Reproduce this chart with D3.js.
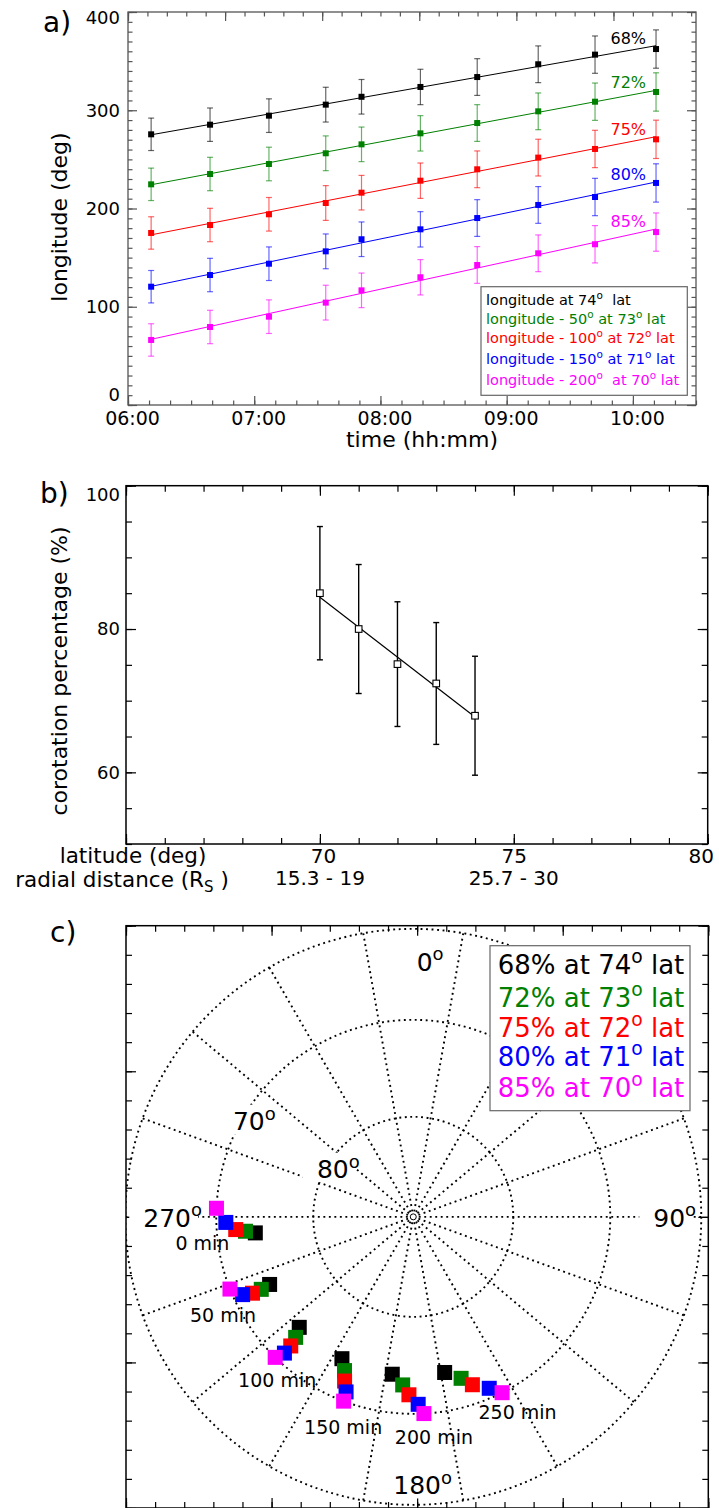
<!DOCTYPE html>
<html>
<head>
<meta charset="utf-8">
<script src="https://cdn.jsdelivr.net/npm/d3@7"></script>
<style>
  body { margin: 0; background: #fff; }
  svg { display: block; font-family: "DejaVu Sans", sans-serif; }
  text { white-space: pre; }
</style>
</head>
<body>
<div id="figure"></div>
<script>
// ---- panel a: longitude of the features vs time ----
var obsTimes = ["06:11", "06:39", "07:07", "07:34", "07:51", "08:19", "08:46", "09:15", "09:42", "10:11"];
var lon68 = [275.5, 285.3, 294.5, 305.7, 313.7, 323.7, 333.8, 346.8, 356.6, 362.3];
var lon72 = [224.6, 235.1, 245.3, 256.2, 265.3, 276.5, 287.0, 298.9, 308.7, 318.6];
var lon75 = [175.1, 183.2, 194.1, 205.6, 216.1, 228.3, 239.9, 251.8, 260.6, 270.4];
var lon80 = [120.4, 132.3, 143.8, 156.4, 168.7, 178.8, 190.3, 203.6, 211.7, 226.0];
var lon85 = [66.2, 79.4, 89.9, 104.2, 116.7, 130.0, 142.5, 154.4, 163.6, 176.0];
var lonErr = [16.5, 17.0, 17.1, 17.7, 17.6, 18.0, 18.7, 18.7, 19.0, 19.5];
var seriesLabels = ["68%", "72%", "75%", "80%", "85%"];
var seriesColors = ["#000000", "#008000", "#ff0000", "#0000ff", "#ff00ff"];
var legendA = ["longitude at 74°  lat", "longitude - 50° at 73° lat", "longitude - 100° at 72° lat",
               "longitude - 150° at 71° lat", "longitude - 200°  at 70° lat"];
var yTicksA = [0, 100, 200, 300, 400];

// ---- panel b: corotation vs latitude ----
var latB = [70, 71, 72, 73, 74];
var corot = [85.0, 80.0, 75.1, 72.4, 67.9];
var corotErr = [9.3, 9.0, 8.7, 8.5, 8.3];
var latTicks = [70, 75, 80];
var radialTicks = ["15.3 - 19", "25.7 - 30"];   // under latitude 70 and 75

// ---- panel c: polar view ----
var polarMinutes = [0, 50, 100, 150, 200, 250];
var polarLat = [74, 73, 72, 71, 70];
var pol68 = [264.2, 244.8, 225.9, 206.7, 187.6, 168.6];
var pol72 = [265.1, 244.5, 224.3, 204.1, 183.6, 163.5];
var pol75 = [265.9, 244.6, 223.5, 202.7, 181.4, 160.6];
var pol80 = [268.3, 245.5, 223.4, 201.0, 178.5, 156.1];
var pol85 = [272.5, 248.5, 224.5, 200.7, 176.9, 153.2];
var legendC = ["68% at 74° lat", "72% at 73° lat", "75% at 72° lat", "80% at 71° lat", "85% at 70° lat"];
var gridLats = [80, 70, 60];

var lonSeries = [lon68, lon72, lon75, lon80, lon85];
var polSeries = [pol68, pol72, pol75, pol80, pol85];

var svg = d3.select("#figure").append("svg")
    .attr("width", 719)
    .attr("height", 1508);

// text with "°" written as a raised small o
function addDeg(text, str, size) {
  str.split("°").forEach(function(part, i) {
    if (i > 0) {
      text.append("tspan").attr("dy", -0.42 * size).attr("font-size", 0.72 * size).text("o");
      text.append("tspan").attr("dy", 0.42 * size).text(part);
    } else {
      text.append("tspan").text(part);
    }
  });
  return text;
}

function axisG(parent, axis, tx, ty, color, size) {
  var g = parent.append("g")
      .attr("transform", "translate(" + tx + "," + ty + ")")
      .call(axis);
  g.attr("font-family", null).attr("font-size", size || 18).attr("color", color);
  g.select(".domain").remove();
  g.selectAll(".tick text").attr("fill", "#000");
  g.selectAll(".tick line").attr("stroke-width", 1.2);
  return g;
}

function linFit(xs, ys) {
  var mx = d3.mean(xs), my = d3.mean(ys);
  var b = d3.sum(xs, (x, i) => (x - mx) * (ys[i] - my)) / d3.sum(xs, x => (x - mx) * (x - mx));
  return x => my + b * (x - mx);
}

var noLabel = () => "";

// ================= panel a =================
var parseT = d3.timeParse("%H:%M");
var times = obsTimes.map(parseT);
var xA = d3.scaleTime().domain([parseT("06:00"), parseT("10:30")]).range([128, 696]);
var yA = d3.scaleLinear().domain([0, 400]).range([405, 12]);
var xTopA = d3.scaleLinear().domain([0, 585]).range([128, 696]);
var gA = svg.append("g");
var grayA = "#555";

axisG(gA, d3.axisLeft(yA).tickValues(yTicksA).tickSize(-9).tickPadding(8), 128, 0, grayA)
  .selectAll(".tick text").attr("y", d => d === 400 ? 6 : d === 0 ? -10 : 0);
axisG(gA, d3.axisLeft(yA).tickValues(d3.range(0, 401, 10)).tickSize(-4.5).tickFormat(noLabel), 128, 0, grayA);
axisG(gA, d3.axisRight(yA).tickValues(yTicksA).tickSize(-9).tickFormat(noLabel), 696, 0, grayA);
axisG(gA, d3.axisRight(yA).tickValues(d3.range(0, 401, 10)).tickSize(-4.5).tickFormat(noLabel), 696, 0, grayA);
axisG(gA, d3.axisBottom(xA).ticks(d3.timeHour.every(1)).tickFormat(d3.timeFormat("%H:%M"))
    .tickSize(-9).tickPadding(6.5), 0, 405, grayA, 19)
  .selectAll(".tick text").attr("dx", 4);
axisG(gA, d3.axisBottom(xA).ticks(d3.timeMinute.every(10)).tickSize(-4.5).tickFormat(noLabel), 0, 405, grayA);
axisG(gA, d3.axisTop(xTopA).tickValues(d3.range(0, 586, 100)).tickSize(-9).tickFormat(noLabel), 0, 12, grayA);
axisG(gA, d3.axisTop(xTopA).tickValues(d3.range(0, 586, 20)).tickSize(-4.5).tickFormat(noLabel), 0, 12, grayA);

gA.append("rect")
  .attr("x", 128).attr("y", 12).attr("width", 568).attr("height", 393)
  .attr("fill", "none").attr("stroke", grayA).attr("stroke-width", 1.3);

var minutes = times.map(t => (t - times[0]) / 60000);
lonSeries.forEach(function(vals, i) {
  var col = seriesColors[i];
  var f = linFit(minutes, vals);
  var g = gA.append("g");

  // fitted line
  g.append("path")
    .datum([0, minutes[minutes.length - 1]])
    .attr("fill", "none").attr("stroke", col).attr("stroke-width", 1)
    .attr("d", d3.line().x(m => xA(new Date(+times[0] + m * 60000))).y(m => yA(f(m))));

  // error bars
  var eb = g.selectAll(".eb").data(vals).enter().append("g")
      .attr("stroke", col).attr("stroke-opacity", 0.6).attr("stroke-width", 1.2);
  eb.append("line")
    .attr("x1", (d, j) => xA(times[j])).attr("x2", (d, j) => xA(times[j]))
    .attr("y1", (d, j) => yA(d - lonErr[j])).attr("y2", (d, j) => yA(d + lonErr[j]));
  [-1, 1].forEach(function(s) {
    eb.append("line")
      .attr("x1", (d, j) => xA(times[j]) - 3).attr("x2", (d, j) => xA(times[j]) + 3)
      .attr("y1", (d, j) => yA(d + s * lonErr[j])).attr("y2", (d, j) => yA(d + s * lonErr[j]));
  });

  // markers
  g.selectAll("rect").data(vals).enter().append("rect")
    .attr("x", (d, j) => xA(times[j]) - 3).attr("y", d => yA(d) - 3)
    .attr("width", 6).attr("height", 6).attr("fill", col);

  // percentage label at the end of the line
  g.append("text")
    .attr("x", xA(times[times.length - 1]) - 10)
    .attr("y", yA(f(minutes[minutes.length - 1])) - 2)
    .attr("text-anchor", "end").attr("font-size", 16).attr("fill", col)
    .text(seriesLabels[i]);
});

// legend a
gA.append("rect")
  .attr("x", 481).attr("y", 286.7).attr("width", 206.3).attr("height", 108.6)
  .attr("fill", "#fff").attr("stroke", "#666").attr("stroke-width", 1.2);
var legendABase = [305, 324.3, 342.7, 364.3, 385];
legendA.forEach(function(s, i) {
  addDeg(gA.append("text").attr("x", 486).attr("y", legendABase[i])
    .attr("font-size", 14.5).attr("fill", seriesColors[i]), s, 14.5);
});

gA.append("text").attr("x", 43).attr("y", 32).attr("font-size", 28).text("a)");
gA.append("text").attr("transform", "translate(67,217) rotate(-90)")
  .attr("text-anchor", "middle").attr("font-size", 22).text("longitude (deg)");
gA.append("text").attr("x", 422).attr("y", 447)
  .attr("text-anchor", "middle").attr("font-size", 22).text("time (hh:mm)");

// ================= panel b =================
var xB = d3.scaleLinear().domain([65, 80]).range([126, 707.7]);
var yB = d3.scaleLinear().domain([50, 100]).range([844, 485.7]);
var gB = svg.append("g");

axisG(gB, d3.axisLeft(yB).tickValues([60, 80, 100]).tickSize(-10).tickPadding(6), 126, 0, "#000")
  .selectAll(".tick text").attr("y", d => d === 100 ? 9 : 0);
axisG(gB, d3.axisLeft(yB).tickValues(d3.range(50, 101, 5)).tickSize(-6).tickFormat(noLabel), 126, 0, "#000");
axisG(gB, d3.axisRight(yB).tickValues([60, 80, 100]).tickSize(-10).tickFormat(noLabel), 707.7, 0, "#000");
axisG(gB, d3.axisRight(yB).tickValues(d3.range(50, 101, 5)).tickSize(-6).tickFormat(noLabel), 707.7, 0, "#000");
axisG(gB, d3.axisBottom(xB).tickValues(latTicks).tickSize(-10).tickPadding(5), 0, 844, "#000", 20)
  .selectAll(".tick text").attr("dx", d => d === 80 ? -7 : d === 70 ? 3 : 0);
axisG(gB, d3.axisBottom(xB).tickValues([65]).tickSize(-10).tickFormat(noLabel), 0, 844, "#000");
axisG(gB, d3.axisBottom(xB).tickValues(d3.range(65, 81, 1)).tickSize(-6).tickFormat(noLabel), 0, 844, "#000");
axisG(gB, d3.axisTop(xB).tickValues([65, 70, 75, 80]).tickSize(-10).tickFormat(noLabel), 0, 485.7, "#000");
axisG(gB, d3.axisTop(xB).tickValues(d3.range(65, 81, 1)).tickSize(-6).tickFormat(noLabel), 0, 485.7, "#000");

gB.append("rect")
  .attr("x", 126).attr("y", 485.7).attr("width", 581.7).attr("height", 358.3)
  .attr("fill", "none").attr("stroke", "#000").attr("stroke-width", 1.5);

radialTicks.forEach(function(s, i) {
  gB.append("text").attr("x", xB(latTicks[i])).attr("y", 885)
    .attr("text-anchor", "middle").attr("font-size", 20).text(s);
});
gB.append("text").attr("x", 133).attr("y", 862.5)
  .attr("text-anchor", "middle").attr("font-size", 21.5).text("latitude (deg)");
var rd = gB.append("text").attr("x", 122).attr("y", 886.5)
  .attr("text-anchor", "middle").attr("font-size", 21.5);
rd.append("tspan").text("radial distance (R");
rd.append("tspan").attr("dy", 5).attr("font-size", 15).text("S");
rd.append("tspan").attr("dy", -5).text(" )");

var fB = linFit(latB, corot);
gB.append("path")
  .datum([latB[0], latB[latB.length - 1]])
  .attr("fill", "none").attr("stroke", "#000").attr("stroke-width", 1.2)
  .attr("d", d3.line().x(d => xB(d)).y(d => yB(fB(d))));

var ebB = gB.selectAll(".ebb").data(corot).enter().append("g")
    .attr("stroke", "#000").attr("stroke-width", 1.4);
ebB.append("line")
  .attr("x1", (d, j) => xB(latB[j])).attr("x2", (d, j) => xB(latB[j]))
  .attr("y1", (d, j) => yB(d - corotErr[j])).attr("y2", (d, j) => yB(d + corotErr[j]));
[-1, 1].forEach(function(s) {
  ebB.append("line")
    .attr("x1", (d, j) => xB(latB[j]) - 3).attr("x2", (d, j) => xB(latB[j]) + 3)
    .attr("y1", (d, j) => yB(d + s * corotErr[j])).attr("y2", (d, j) => yB(d + s * corotErr[j]));
});
gB.selectAll(".mk").data(corot).enter().append("rect")
  .attr("x", (d, j) => xB(latB[j]) - 3.3).attr("y", d => yB(d) - 3.3)
  .attr("width", 6.6).attr("height", 6.6)
  .attr("fill", "#fff").attr("stroke", "#000").attr("stroke-width", 1.1);

gB.append("text").attr("x", 40).attr("y", 503).attr("font-size", 28).text("b)");
gB.append("text").attr("transform", "translate(67,671) rotate(-90)")
  .attr("text-anchor", "middle").attr("font-size", 22).text("corotation percentage (%)");

// ================= panel c =================
var fx = d3.scaleLinear().domain([-30, 30]).range([126, 708.3]);
var fy = d3.scaleLinear().domain([-30, 30]).range([1508, 925.7]);
var rC = d3.scaleLinear().domain([0, 1]).range([0, 576]);   // cos(latitude) -> radius
var cx = fx(-0.4), cy = fy(0);
var rad = Math.PI / 180;
function polar(lon, lat) {
  var r = rC(Math.cos(lat * rad));
  return [cx + r * Math.sin(lon * rad), cy - r * Math.cos(lon * rad)];
}
var gC = svg.append("g");

svg.append("clipPath").attr("id", "clipC").append("rect")
  .attr("x", 126).attr("y", 925.7).attr("width", 582.3).attr("height", 582.3);

var grid = gC.append("g").attr("clip-path", "url(#clipC)")
    .attr("fill", "none").attr("stroke", "#000")
    .attr("stroke-width", 1.9).attr("stroke-dasharray", "1.9,3.6");
grid.selectAll("circle").data(gridLats).enter().append("circle")
  .attr("cx", cx).attr("cy", cy).attr("r", d => rC(Math.cos(d * rad)));
grid.selectAll("line").data(d3.range(10, 360, 20)).enter().append("line")
  .attr("x1", cx).attr("y1", cy)
  .attr("x2", d => polar(d, d3.min(gridLats))[0])
  .attr("y2", d => polar(d, d3.min(gridLats))[1]);
gC.append("circle").attr("cx", cx).attr("cy", cy).attr("r", 3)
  .attr("fill", "#fff").attr("stroke", "#000").attr("stroke-width", 1);

// frame ticks
var fMaj = d3.range(-30, 31, 15), fMin = d3.range(-30, 31, 3);
[[d3.axisLeft, 126, 0, fy], [d3.axisRight, 708.3, 0, fy], [d3.axisBottom, 0, 1508, fx], [d3.axisTop, 0, 925.7, fx]]
  .forEach(function(a) {
    axisG(gC, a[0](a[3]).tickValues(fMaj).tickSize(-10).tickFormat(noLabel), a[1], a[2], "#000");
    axisG(gC, a[0](a[3]).tickValues(fMin).tickSize(-6).tickFormat(noLabel), a[1], a[2], "#000");
  });
gC.append("rect")
  .attr("x", 126).attr("y", 925.7).attr("width", 582.3).attr("height", 582.3)
  .attr("fill", "none").attr("stroke", "#000").attr("stroke-width", 1.5);

// direction and latitude labels (offsets from the pole, left edge / baseline)
var polarLabels = [["0°", 3.4, -246], ["90°", 240, 10], ["270°", -270, 10],
                   ["180°", -20, 277.6], ["70°", -180.3, -86.7], ["80°", -96.3, -38.7]];
polarLabels.forEach(function(p) {
  var bgRect = gC.append("rect").attr("fill", "#fff");
  var t = addDeg(gC.append("text").attr("x", cx + p[1]).attr("y", cy + p[2]).attr("font-size", 25), p[0], 25);
  var bb = t.node().getBBox();
  bgRect.attr("x", bb.x - 14).attr("y", bb.y + 2).attr("width", bb.width + 10).attr("height", bb.height - 4);
});

// markers
polSeries.forEach(function(vals, i) {
  gC.selectAll(".p" + i).data(vals).enter().append("rect")
    .attr("x", d => polar(d, polarLat[i])[0] - 7.5)
    .attr("y", d => polar(d, polarLat[i])[1] - 7.5)
    .attr("width", 15).attr("height", 15)
    .attr("fill", seriesColors[i]);
});

// time labels, placed from the 85% marker
var timeLabelOff = [[-14, 41.7], [-7, 32.7], [2, 29.4], [-0.5, 33.3], [10, 30], [15.5, 26.3]];
polarMinutes.forEach(function(m, j) {
  var p = polar(pol85[j], polarLat[4]);
  gC.append("text")
    .attr("x", p[0] + timeLabelOff[j][0]).attr("y", p[1] + timeLabelOff[j][1])
    .attr("text-anchor", "middle").attr("font-size", 19)
    .text(m + " min");
});

// legend c
gC.append("rect")
  .attr("x", 490).attr("y", 945.7).attr("width", 200).attr("height", 165)
  .attr("fill", "#fff").attr("stroke", "#666").attr("stroke-width", 1.2);
var legendCBase = [974.3, 1006.7, 1036.7, 1065.7, 1097.3];
legendC.forEach(function(s, i) {
  addDeg(gC.append("text").attr("x", 497.7).attr("y", legendCBase[i])
    .attr("font-size", 26).attr("fill", seriesColors[i]), s, 26);
});

gC.append("text").attr("x", 50).attr("y", 941.7).attr("font-size", 28).text("c)");
</script>
</body>
</html>
